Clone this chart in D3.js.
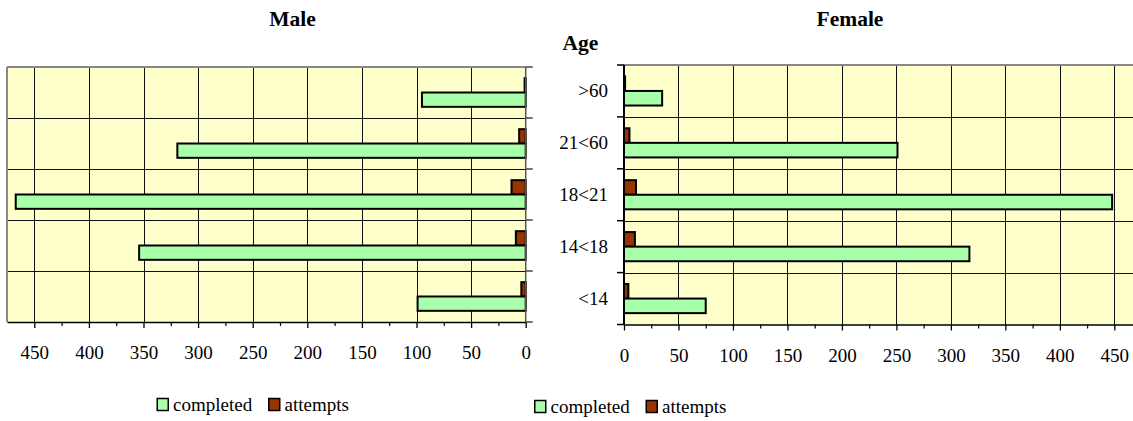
<!DOCTYPE html>
<html>
<head>
<meta charset="utf-8">
<script src="https://cdn.jsdelivr.net/npm/d3@7"></script>
<style>
  html, body { margin: 0; padding: 0; background: #fff; }
  svg { display: block; }
  text { font-family: "Liberation Serif", "Times New Roman", serif; fill: #000; }
</style>
</head>
<body>
<svg id="chart" width="1133" height="421"></svg>
<script>
// ---- data ----
const categories = [">60", "21<60", "18<21", "14<18", "<14"];
const series = ["attempts", "completed"];
const maleCompleted = [95, 319, 467, 354, 99];
const maleAttempts = [1, 6, 13, 9, 4];
const femaleCompleted = [35, 251, 448, 317, 75];
const femaleAttempts = [1, 5, 11, 10, 4];
const majorTicks = [0, 50, 100, 150, 200, 250, 300, 350, 400, 450];
const minorTicks = [25, 75, 125, 175, 225, 275, 325, 375, 425];
const legendLabels = ["completed", "attempts"];

const colors = { completed: "#AAFFAA", attempts: "#993300" };
const svg = d3.select("#chart");

function panel(opts) {
  const { x, y, completed, attempts, side } = opts;
  const g = svg.append("g");
  const [x0, x1] = x.range();
  const left = Math.min(x0, x1), right = Math.max(x0, x1);
  const [top, bottom] = y.range();

  // background
  g.append("rect").attr("x", left).attr("y", top)
    .attr("width", right - left).attr("height", bottom - top)
    .attr("fill", "#FFFFCC");

  // vertical grid
  g.selectAll(".vg").data(majorTicks.filter(d => d > 0)).join("line")
    .attr("x1", d => Math.round(x(d)) + 0.5).attr("x2", d => Math.round(x(d)) + 0.5)
    .attr("y1", top).attr("y2", bottom)
    .attr("stroke", "#111").attr("stroke-width", 1);

  // horizontal grid (category boundaries)
  const bounds = categories.map(c => y(c)).concat([bottom]);
  g.selectAll(".hg").data(bounds.slice(1, -1)).join("line")
    .attr("x1", left).attr("x2", right)
    .attr("y1", d => Math.round(d) + 0.5).attr("y2", d => Math.round(d) + 0.5)
    .attr("stroke", "#111").attr("stroke-width", 1);

  // top & outer border (gray)
  g.append("line").attr("x1", left).attr("x2", right).attr("y1", top).attr("y2", top)
    .attr("stroke", "#888").attr("stroke-width", 2);
  if (side === "male") {
    g.append("line").attr("x1", left).attr("x2", left).attr("y1", top).attr("y2", bottom)
      .attr("stroke", "#888").attr("stroke-width", 2);
  }

  // bars
  const inner = d3.scaleBand().domain(series).range([0, y.bandwidth()])
    .paddingInner(0).paddingOuter(0.78);
  const rows = categories.map((c, i) => ({ c, completed: completed[i], attempts: attempts[i] }));
  series.forEach(s => {
    g.selectAll(".bar-" + s).data(rows).join("rect")
      .attr("x", d => Math.min(x(0), x(d[s])))
      .attr("width", d => Math.abs(x(d[s]) - x(0)))
      .attr("y", d => y(d.c) + inner(s))
      .attr("height", inner.bandwidth())
      .attr("fill", colors[s]).attr("stroke", "#000").attr("stroke-width", 2);
  });

  // bottom axis
  const axG = g.append("g").attr("transform", `translate(0,${bottom})`);
  axG.call(d3.axisBottom(x).tickValues(majorTicks).tickSize(6).tickSizeOuter(0).tickFormat(d3.format("d")));
  axG.select(".domain").attr("stroke", "#000").attr("stroke-width", 1.6);
  axG.selectAll(".tick line").attr("stroke", "#000").attr("stroke-width", 1.3);
  axG.selectAll(".tick text").attr("y", 24).attr("dy", "0.71em")
    .style("font-size", "19px").style("font-family", '"Liberation Serif", "Times New Roman", serif');
  const minG = g.append("g").attr("transform", `translate(0,${bottom})`);
  minG.call(d3.axisBottom(x).tickValues(minorTicks).tickSize(4).tickSizeOuter(0).tickFormat(""));
  minG.select(".domain").remove();
  minG.selectAll(".tick line").attr("stroke", "#000").attr("stroke-width", 1.2);

  // category axis at zero
  const zx = x(0);
  const dir = side === "male" ? 1 : -1;
  g.append("line").attr("x1", zx).attr("x2", zx).attr("y1", top).attr("y2", bottom)
    .attr("stroke", side === "male" ? "#555" : "#000").attr("stroke-width", side === "male" ? 1.5 : 2);
  g.selectAll(".ct").data(bounds).join("line")
    .attr("x1", zx).attr("x2", zx + dir * 7)
    .attr("y1", d => d).attr("y2", d => d)
    .attr("stroke", side === "male" ? "#444" : "#000").attr("stroke-width", 1.5);

  if (side === "female") {
    g.selectAll(".cl").data(categories).join("text")
      .attr("x", zx - 16).attr("y", d => y(d) + y.bandwidth() / 2)
      .attr("dy", "0.32em").attr("text-anchor", "end")
      .style("font-size", "19px").text(d => d);
  }
}

const xL = d3.scaleLinear().domain([0, 475]).range([525.7, 7]);
const yL = d3.scaleBand().domain(categories).range([67, 322]);
const xR = d3.scaleLinear().domain([0, 475]).range([624, 624 + 475 * 1.0896]);
const yR = d3.scaleBand().domain(categories).range([65, 324.5]);

panel({ x: xL, y: yL, completed: maleCompleted, attempts: maleAttempts, side: "male" });
panel({ x: xR, y: yR, completed: femaleCompleted, attempts: femaleAttempts, side: "female" });

// titles
svg.append("text").attr("x", 292.5).attr("y", 26).attr("text-anchor", "middle")
  .style("font-size", "21.5px").style("font-weight", "bold").text("Male");
svg.append("text").attr("x", 850).attr("y", 26).attr("text-anchor", "middle")
  .style("font-size", "21.5px").style("font-weight", "bold").text("Female");
svg.append("text").attr("x", 580.5).attr("y", 50).attr("text-anchor", "middle")
  .style("font-size", "21.5px").style("font-weight", "bold").text("Age");

// legends
function legend(x0, base) {
  const g = svg.append("g");
  const keys = ["completed", "attempts"];
  const offsets = [0, 111.5];
  keys.forEach((k, i) => {
    g.append("rect").attr("x", x0 + offsets[i] + 0.75).attr("y", base - 12.5)
      .attr("width", 11).attr("height", 12)
      .attr("fill", colors[k]).attr("stroke", "#000").attr("stroke-width", 1.5);
    g.append("text").attr("x", x0 + offsets[i] + 16.5).attr("y", base)
      .style("font-size", "19px").text(legendLabels[i]);
  });
}
legend(156.5, 411);
legend(534, 413);
</script>
</body>
</html>
